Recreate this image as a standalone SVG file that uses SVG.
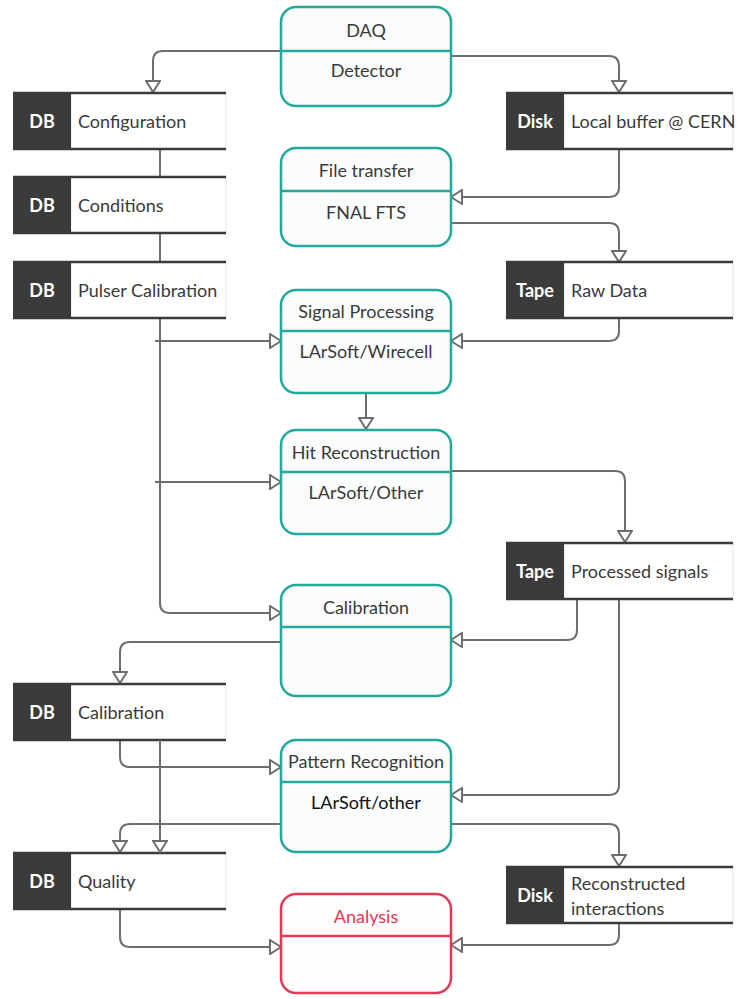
<svg xmlns="http://www.w3.org/2000/svg" width="740" height="999" viewBox="0 0 740 999">
<style>
.proc{fill:#fbfdfd;stroke:#22a89d;stroke-width:2.5}
.div{stroke:#22a89d;stroke-width:2.5}
.procR{fill:#fffdfd;stroke:#e23a55;stroke-width:2.5}
.divR{stroke:#e23a55;stroke-width:2.5}
.t{font-family:Lato,"Liberation Sans",sans-serif;font-size:18px;fill:#3a3a3a;text-anchor:middle;dominant-baseline:central}
.tl{font-family:Lato,"Liberation Sans",sans-serif;font-size:18px;fill:#3a3a3a;dominant-baseline:central}
.tag{font-family:Lato,"Liberation Sans",sans-serif;font-size:18px;font-weight:bold;fill:#ffffff;text-anchor:middle;dominant-baseline:central}
.dark{fill:#3b3b3b}
.body{fill:#ffffff;stroke:#e4e4e4;stroke-width:1}
.edge{stroke:#3b3b3b;stroke-width:2.5}
.c{fill:none;stroke:#6e6e6e;stroke-width:2}
.ca{fill:none;stroke:#6e6e6e;stroke-width:2;marker-end:url(#arr)}
</style>
<defs>
<marker id="arr" viewBox="0 0 13 16" refX="12" refY="8" markerWidth="13" markerHeight="16" markerUnits="userSpaceOnUse" orient="auto">
<path d="M1,1 L12,8 L1,15 Z" fill="#ffffff" stroke="#6e6e6e" stroke-width="2"/>
</marker>
</defs>
<rect width="740" height="999" fill="#ffffff"/>

<g id="connectors">
<path class="ca" d="M281,51 H163 Q153,51 153,61 V92"/>
<path class="ca" d="M451,56 H609 Q619,56 619,66 V92"/>
<path class="ca" d="M619,149 V187 Q619,197 609,197 H451"/>
<path class="ca" d="M451,223 H609 Q619,223 619,233 V262"/>
<path class="ca" d="M619,318 V331 Q619,341 609,341 H451"/>
<path class="c" d="M160,149 V176"/>
<path class="c" d="M160,233 V261"/>
<path class="ca" d="M155,341 H281"/>
<path class="ca" d="M155,482 H281"/>
<path class="ca" d="M160,318 V603 Q160,613 170,613 H281"/>
<path class="ca" d="M366,393 V429"/>
<path class="ca" d="M451,471 H615 Q625,471 625,481 V542"/>
<path class="ca" d="M577,599 V630 Q577,640 567,640 H451"/>
<path class="ca" d="M619,599 V785 Q619,795 609,795 H451"/>
<path class="ca" d="M281,642 H130 Q120,642 120,652 V683"/>
<path class="ca" d="M120,740 V757 Q120,767 130,767 H281"/>
<path class="ca" d="M281,824 H130 Q120,824 120,834 V852"/>
<path class="ca" d="M451,824 H609 Q619,824 619,834 V866"/>
<path class="ca" d="M120,908 V937 Q120,947 130,947 H281"/>
<path class="ca" d="M619,923 V935 Q619,945 609,945 H451"/>
</g>

<g id="db-configuration">
<rect class="body" x="71" y="93" width="155" height="56"/>
<rect class="dark" x="13" y="93" width="58" height="56"/>
<line class="edge" x1="13" y1="93" x2="226" y2="93"/>
<line class="edge" x1="13" y1="149" x2="226" y2="149"/>
<text class="tag" x="42" y="121">DB</text>
<text class="tl" x="78" y="121">Configuration</text>
</g>
<g id="db-conditions">
<rect class="body" x="71" y="177" width="155" height="56"/>
<rect class="dark" x="13" y="177" width="58" height="56"/>
<line class="edge" x1="13" y1="177" x2="226" y2="177"/>
<line class="edge" x1="13" y1="233" x2="226" y2="233"/>
<text class="tag" x="42" y="205">DB</text>
<text class="tl" x="78" y="205">Conditions</text>
</g>
<g id="db-pulser">
<rect class="body" x="71" y="262" width="155" height="56"/>
<rect class="dark" x="13" y="262" width="58" height="56"/>
<line class="edge" x1="13" y1="262" x2="226" y2="262"/>
<line class="edge" x1="13" y1="318" x2="226" y2="318"/>
<text class="tag" x="42" y="290">DB</text>
<text class="tl" x="78" y="290">Pulser Calibration</text>
</g>
<g id="db-calibration">
<rect class="body" x="71" y="684" width="155" height="56"/>
<rect class="dark" x="13" y="684" width="58" height="56"/>
<line class="edge" x1="13" y1="684" x2="226" y2="684"/>
<line class="edge" x1="13" y1="740" x2="226" y2="740"/>
<text class="tag" x="42" y="712">DB</text>
<text class="tl" x="78" y="712">Calibration</text>
</g>
<g id="db-quality">
<rect class="body" x="71" y="853" width="155" height="56"/>
<rect class="dark" x="13" y="853" width="58" height="56"/>
<line class="edge" x1="13" y1="853" x2="226" y2="853"/>
<line class="edge" x1="13" y1="909" x2="226" y2="909"/>
<text class="tag" x="42" y="881">DB</text>
<text class="tl" x="78" y="881">Quality</text>
</g>
<path class="c" d="M160,740 V770"/>
<path class="ca" d="M160,770 V852"/>

<g id="disk-local">
<rect class="body" x="564" y="93" width="169" height="56"/>
<rect class="dark" x="506" y="93" width="58" height="56"/>
<line class="edge" x1="506" y1="93" x2="733" y2="93"/>
<line class="edge" x1="506" y1="149" x2="733" y2="149"/>
<text class="tag" x="535" y="121">Disk</text>
<text class="tl" x="571" y="121">Local buffer @ CERN</text>
</g>
<g id="tape-raw">
<rect class="body" x="564" y="262" width="169" height="56"/>
<rect class="dark" x="506" y="262" width="58" height="56"/>
<line class="edge" x1="506" y1="262" x2="733" y2="262"/>
<line class="edge" x1="506" y1="318" x2="733" y2="318"/>
<text class="tag" x="535" y="290">Tape</text>
<text class="tl" x="571" y="290">Raw Data</text>
</g>
<g id="tape-processed">
<rect class="body" x="564" y="543" width="169" height="56"/>
<rect class="dark" x="506" y="543" width="58" height="56"/>
<line class="edge" x1="506" y1="543" x2="733" y2="543"/>
<line class="edge" x1="506" y1="599" x2="733" y2="599"/>
<text class="tag" x="535" y="571">Tape</text>
<text class="tl" x="571" y="571">Processed signals</text>
</g>
<g id="disk-reconstructed">
<rect class="body" x="564" y="867" width="169" height="56"/>
<rect class="dark" x="506" y="867" width="58" height="56"/>
<line class="edge" x1="506" y1="867" x2="733" y2="867"/>
<line class="edge" x1="506" y1="923" x2="733" y2="923"/>
<text class="tag" x="535" y="895">Disk</text>
<text class="tl" x="571" y="883">Reconstructed</text>
<text class="tl" x="571" y="908">interactions</text>
</g>

<g id="daq">
<rect class="proc" x="281" y="7" width="170" height="99" rx="15"/>
<line class="div" x1="281" y1="51" x2="451" y2="51"/>
<text class="t" x="366" y="30">DAQ</text>
<text class="t" x="366" y="70">Detector</text>
</g>
<g id="file-transfer">
<rect class="proc" x="281" y="148" width="170" height="98" rx="15"/>
<line class="div" x1="281" y1="191" x2="451" y2="191"/>
<text class="t" x="366" y="170">File transfer</text>
<text class="t" x="366" y="212">FNAL FTS</text>
</g>
<g id="signal-processing">
<rect class="proc" x="281" y="290" width="170" height="103" rx="15"/>
<line class="div" x1="281" y1="331" x2="451" y2="331"/>
<text class="t" x="366" y="311">Signal Processing</text>
<text class="t" x="366" y="351">LArSoft/Wirecell</text>
</g>
<g id="hit-reconstruction">
<rect class="proc" x="281" y="430" width="170" height="104" rx="15"/>
<line class="div" x1="281" y1="472" x2="451" y2="472"/>
<text class="t" x="366" y="452">Hit Reconstruction</text>
<text class="t" x="366" y="492">LArSoft/Other</text>
</g>
<g id="calibration">
<rect class="proc" x="281" y="585" width="170" height="111" rx="15"/>
<line class="div" x1="281" y1="627" x2="451" y2="627"/>
<text class="t" x="366" y="607">Calibration</text>
</g>
<g id="pattern-recognition">
<rect class="proc" x="281" y="740" width="170" height="112" rx="15"/>
<line class="div" x1="281" y1="782" x2="451" y2="782"/>
<text class="t" x="366" y="761">Pattern Recognition</text>
<text class="t" x="366" y="802" style="fill:#111111">LArSoft/other</text>
</g>
<g id="analysis">
<rect class="procR" x="281" y="894" width="170" height="99" rx="15"/>
<line class="divR" x1="281" y1="936" x2="451" y2="936"/>
<text class="t" x="366" y="916" style="fill:#e23a55">Analysis</text>
</g>
</svg>
